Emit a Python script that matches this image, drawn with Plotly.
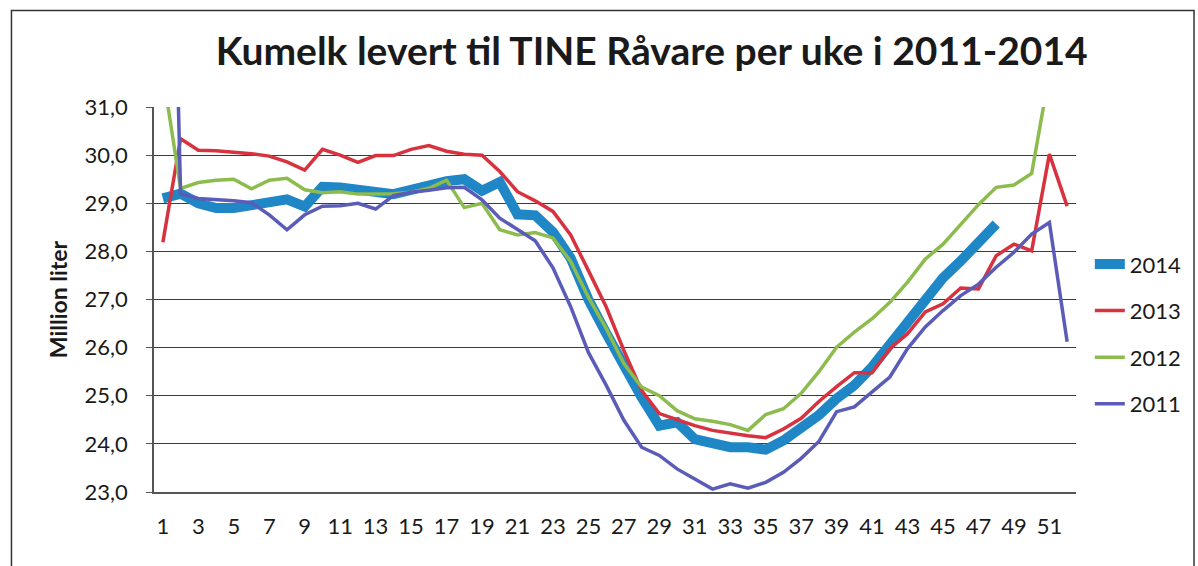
import plotly.graph_objects as go

weeks = list(range(1, 53))
tick_weeks = list(range(1, 52, 2))

y2014 = [29.1, 29.2, 29.0, 28.9, 28.9, 28.97, 29.03, 29.08, 28.93, 29.34,
         29.33, 29.3, 29.25, 29.19, 29.28, 29.39, 29.46, 29.5, 29.26, 29.44,
         28.77, 28.75, 28.4, 27.86, 27.0, 26.3, 25.6, 24.97, 24.38, 24.45,
         24.1, 24.0, 23.93, 23.93, 23.88, 24.07, 24.32, 24.6, 24.94, 25.22,
         25.6, 26.08, 26.53, 27.05, 27.45, 27.8, 28.19, 28.57]

y2013 = [28.19, 30.34, 30.1, 30.09, 30.06, 30.03, 29.98, 29.86, 29.69, 30.12,
         30.0, 29.85, 29.99, 29.99, 30.12, 30.2, 30.08, 30.02, 30.0, 29.66,
         29.24, 29.05, 28.83, 28.34, 27.6, 26.85, 25.94, 25.11, 24.63, 24.5,
         24.38, 24.28, 24.22, 24.17, 24.13, 24.31, 24.53, 24.88, 25.19, 25.48,
         25.48, 25.98, 26.29, 26.74, 26.91, 27.24, 27.22, 27.91, 28.15, 28.01,
         30.02, 28.94]

y2012 = [31.7, 29.31, 29.43, 29.48, 29.5, 29.3, 29.48, 29.52, 29.28, 29.22,
         29.24, 29.19, 29.19, 29.2, 29.23, 29.31, 29.48, 28.91, 29.0, 28.45,
         28.34, 28.39, 28.28, 27.79, 27.05, 26.4, 25.67, 25.18, 25.0, 24.69,
         24.52, 24.47, 24.4, 24.28, 24.61, 24.73, 25.05, 25.5, 26.01, 26.32,
         26.6, 26.94, 27.36, 27.84, 28.15, 28.57, 28.97, 29.33, 29.38, 29.62,
         31.7, 31.9]

y2011 = [44.0, 29.2, 29.1, 29.08, 29.05, 29.01, 28.76, 28.45, 28.76, 28.94,
         28.95, 29.0, 28.88, 29.16, 29.23, 29.27, 29.32, 29.33, 29.07, 28.69,
         28.45, 28.22, 27.66, 26.85, 25.9, 25.22, 24.49, 23.93, 23.76, 23.48,
         23.27, 23.06, 23.17, 23.08, 23.2, 23.41, 23.7, 24.05, 24.67, 24.77,
         25.08, 25.39, 25.98, 26.43, 26.77, 27.08, 27.32, 27.67, 27.98, 28.36,
         28.6, 26.12]

series = [
    ("2014", y2014, "#1f87c6", 10),
    ("2013", y2013, "#d8323f", 3.5),
    ("2012", y2012, "#8cbb4e", 3.5),
    ("2011", y2011, "#5a5cb8", 3.5),
]

fig = go.Figure()
for name, ys, color, width in series:
    fig.add_trace(go.Scatter(
        x=weeks[:len(ys)], y=ys, mode="lines", name=name,
        legendgroup=name,
        line=dict(color=color, width=width),
    ))

font_family = "Lato, 'Open Sans', sans-serif"

fig.update_layout(
    width=1198, height=566,
    margin=dict(l=154, r=122, t=107, b=74, autoexpand=False),
    paper_bgcolor="white", plot_bgcolor="white",
    separators=", ",
    font=dict(family=font_family, color="#1a1a1a", size=20),
    title=dict(
        text="<b>Kumelk levert til TINE Råvare per uke i 2011-2014</b>",
        font=dict(family=font_family, size=39, color="#1a1a1a"),
        xref="container", yref="container",
        x=0.544, xanchor="center", y=0.91, yanchor="middle",
    ),
    showlegend=True,
    legend=dict(
        x=1.015, xanchor="left", y=0.41, yanchor="middle",
        traceorder="grouped", tracegroupgap=15,
        font=dict(family=font_family, size=22, color="#1a1a1a"),
        bgcolor="rgba(0,0,0,0)",
    ),
    shapes=[dict(
        type="rect", xref="paper", yref="paper",
        x0=-0.1546, x1=1.128, y0=-0.21, y1=1.2508,
        line=dict(color="#333333", width=1.5), layer="below",
    )],
)

fig.update_xaxes(
    range=[0.5, 52.5], tickvals=tick_weeks, ticktext=[str(w) for w in tick_weeks],
    showgrid=False, zeroline=False, showline=True, linecolor="#555555", linewidth=1.5,
    ticks="", ticklabelstandoff=14, automargin=False,
    tickfont=dict(family=font_family, size=22, color="#1a1a1a"),
)
fig.update_yaxes(
    range=[23, 31], dtick=1, tickformat=".1f",
    showgrid=True, gridcolor="#3c3c3c", gridwidth=1, zeroline=False,
    showline=True, linecolor="#555555", linewidth=1.5,
    ticks="outside", ticklen=6, tickcolor="#555555", ticklabelstandoff=14,
    automargin=False,
    tickfont=dict(family=font_family, size=22, color="#1a1a1a"),
    title=dict(text="<b>Million liter</b>", standoff=11,
               font=dict(family=font_family, size=23, color="#1a1a1a")),
)

fig.write_html("out.html", config={"displayModeBar": False},
               post_script="document.body.style.margin='0px';")
